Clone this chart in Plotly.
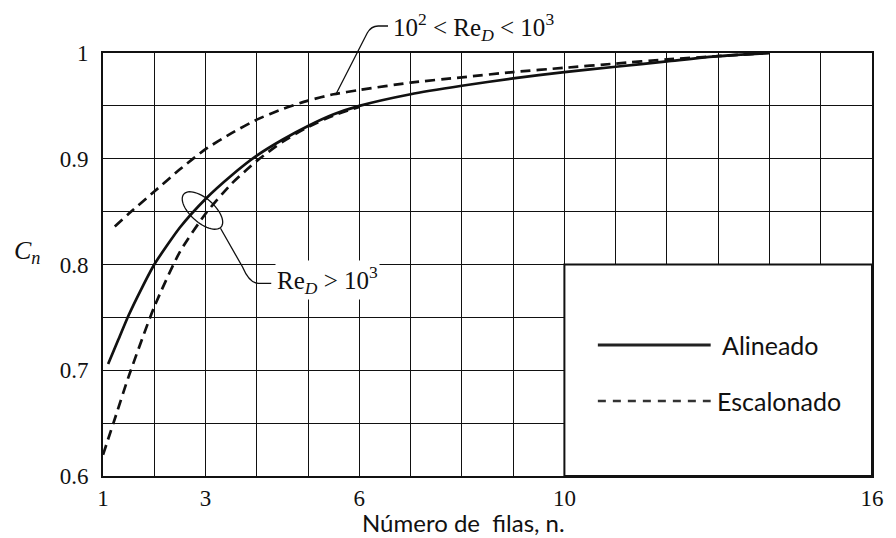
import numpy as np
import plotly.graph_objects as go

# ---------------- data ----------------
n_alineado = [1.1, 1.3, 1.5, 1.75, 2, 2.5, 3, 3.5, 4, 4.5, 5, 5.5, 6, 7, 8, 9, 10, 11, 12, 13, 14]
c_alineado = [0.706, 0.729, 0.752, 0.777, 0.800, 0.835, 0.862, 0.884, 0.903, 0.918, 0.931, 0.942,
              0.950, 0.961, 0.969, 0.976, 0.982, 0.987, 0.992, 0.997, 1.000]

n_esc_alto = [1.0, 1.25, 1.5, 2, 2.5, 3, 3.5, 4, 4.5, 5, 5.5, 6]
c_esc_alto = [0.620, 0.657, 0.694, 0.760, 0.812, 0.848, 0.876, 0.898, 0.916, 0.930, 0.941, 0.949]

n_esc_bajo = [1.23, 1.5, 2, 2.5, 3, 3.5, 4, 4.5, 5, 5.5, 6, 7, 8, 9, 10, 11, 12, 13, 14]
c_esc_bajo = [0.836, 0.848, 0.869, 0.890, 0.909, 0.924, 0.937, 0.947, 0.955, 0.961,
              0.965, 0.972, 0.977, 0.982, 0.986, 0.990, 0.994, 0.997, 1.000]

x_ticks = [1, 3, 6, 10, 16]
y_ticks = [0.6, 0.7, 0.8, 0.9, 1.0]
y_ticktext = ["0.6", "0.7", "0.8", "0.9", "1"]

legend_labels = ["Alineado", "Escalonado"]

# ---------------- layout geometry ----------------
W, H = 896, 538
L, R, T, B = 103, 880, 53, 476
XMIN, XMAX, YMIN, YMAX = 1, 16, 0.6, 1.0


def px2paper(px):
    return (px - L) / (R - L)


def py2paper(py):
    return (B - py) / (B - T)


INK = "#111111"
DASH = "10px,6px"

fig = go.Figure()
fig.add_trace(go.Scatter(x=n_alineado, y=c_alineado, mode="lines",
                         line=dict(color=INK, width=2.7, shape="spline", smoothing=0.6),
                         name=legend_labels[0], showlegend=False))
fig.add_trace(go.Scatter(x=n_esc_alto, y=c_esc_alto, mode="lines",
                         line=dict(color=INK, width=2.7, dash=DASH, shape="spline", smoothing=0.6),
                         name=legend_labels[1], showlegend=False))
fig.add_trace(go.Scatter(x=n_esc_bajo, y=c_esc_bajo, mode="lines",
                         line=dict(color=INK, width=2.7, dash=DASH, shape="spline", smoothing=0.6),
                         name=legend_labels[1] + " (10²<Re<10³)", showlegend=False))

shapes = []
# legend box (white, hides the grid in the lower-right corner)
shapes.append(dict(type="rect", xref="x", yref="y", x0=10, x1=16, y0=0.6, y1=0.8,
                   fillcolor="white", line=dict(color=INK, width=2), layer="above"))
# legend samples
shapes.append(dict(type="line", xref="paper", yref="paper",
                   x0=px2paper(603), x1=px2paper(717), y0=py2paper(345), y1=py2paper(345),
                   line=dict(color="#222222", width=3), layer="above"))
shapes.append(dict(type="line", xref="paper", yref="paper",
                   x0=px2paper(603), x1=px2paper(717), y0=py2paper(401), y1=py2paper(401),
                   line=dict(color="#333333", width=2.5, dash="8px,7px"), layer="above"))


def path_from_px(cmds):
    out = []
    for c in cmds:
        op = c[0]
        pts = c[1:]
        s = op + " " + " ".join(f"{px2paper(p[0]):.5f},{py2paper(p[1]):.5f}" for p in pts)
        out.append(s)
    return " ".join(out)


# leader for the upper annotation
shapes.append(dict(type="path", xref="paper", yref="paper",
                   path=path_from_px([("M", (391, 26)), ("L", (381, 26)),
                                      ("Q", (374, 26), (370, 33)), ("L", (339, 93))]),
                   line=dict(color=INK, width=1.3), layer="above"))
# ellipse around the Re_D > 10^3 curves
cx, cy, a, b, th = 203.5, 210.5, 25.0, 12.0, np.deg2rad(41)
t = np.linspace(0, 2 * np.pi, 60)
ex = cx + a * np.cos(t) * np.cos(th) - b * np.sin(t) * np.sin(th)
ey = cy + a * np.cos(t) * np.sin(th) + b * np.sin(t) * np.cos(th)
ell = "M " + " L ".join(f"{px2paper(x):.5f},{py2paper(y):.5f}" for x, y in zip(ex, ey)) + " Z"
shapes.append(dict(type="path", xref="paper", yref="paper", path=ell,
                   line=dict(color=INK, width=1.3), layer="above"))
# leader for the lower annotation
shapes.append(dict(type="path", xref="paper", yref="paper",
                   path=path_from_px([("M", (221.7, 228.3)), ("L", (244, 267)),
                                      ("Q", (251, 283.3), (260, 283.3)), ("L", (273, 283.3))]),
                   line=dict(color=INK, width=1.3), layer="above"))

serif = "Liberation Serif"
sans = "Lato"

annotations = [
    dict(text="10<sup>2</sup> &lt; Re<sub><i>D</i></sub> &lt; 10<sup>3</sup>",
         xref="paper", yref="paper", x=px2paper(394), y=py2paper(27),
         xanchor="left", yanchor="middle", showarrow=False,
         font=dict(family=serif, size=25, color=INK)),
    dict(text="Re<sub><i>D</i></sub> &gt; 10<sup>3</sup>",
         xref="paper", yref="paper", x=px2paper(277), y=py2paper(280),
         xanchor="left", yanchor="middle", showarrow=False, bgcolor="white", borderpad=1,
         font=dict(family=serif, size=25, color=INK)),
    dict(text="<i>C<sub>n</sub></i>", xref="paper", yref="paper",
         x=px2paper(26), y=py2paper(252), xanchor="center", yanchor="middle",
         showarrow=False, font=dict(family=serif, size=26, color=INK)),
    dict(text="Número de\u00a0 filas, n.", xref="paper", yref="paper",
         x=px2paper(467), y=py2paper(522), xanchor="center", yanchor="middle",
         showarrow=False, font=dict(family=sans, size=24, color=INK)),
    dict(text=legend_labels[0], xref="paper", yref="paper",
         x=px2paper(726), y=py2paper(345), xanchor="left", yanchor="middle",
         showarrow=False, font=dict(family=sans, size=25, color=INK)),
    dict(text=legend_labels[1], xref="paper", yref="paper",
         x=px2paper(721), y=py2paper(401), xanchor="left", yanchor="middle",
         showarrow=False, font=dict(family=sans, size=25, color=INK)),
]

grid = dict(showgrid=True, gridcolor=INK, gridwidth=1.4)
fig.update_layout(
    width=W, height=H,
    margin=dict(l=L, r=W - R, t=T, b=H - B, pad=0),
    paper_bgcolor="white", plot_bgcolor="white",
    shapes=shapes, annotations=annotations,
    xaxis=dict(range=[XMIN, XMAX], tickmode="array", tickvals=x_ticks,
               ticktext=[str(v) for v in x_ticks], ticks="", ticklabelstandoff=0,
               tickfont=dict(family=serif, size=23, color=INK),
               showline=True, mirror=True, linecolor=INK, linewidth=2, zeroline=False,
               minor=dict(dtick=1, tick0=1, showgrid=True, gridcolor=INK, gridwidth=1.4, ticks=""),
               **grid),
    yaxis=dict(range=[YMIN, YMAX], tickmode="array", tickvals=y_ticks, ticktext=y_ticktext,
               ticks="", ticklabelstandoff=8,
               tickfont=dict(family=serif, size=23, color=INK),
               showline=True, mirror=True, linecolor=INK, linewidth=2, zeroline=False,
               minor=dict(dtick=0.05, tick0=0.6, showgrid=True, gridcolor=INK, gridwidth=1.4, ticks=""),
               **grid),
)

fig.write_html("out.html")
